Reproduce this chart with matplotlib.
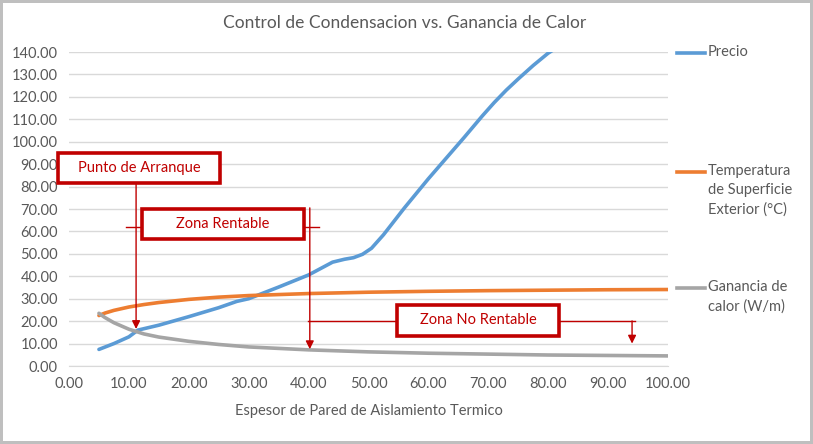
import numpy as np
import matplotlib.pyplot as plt
from matplotlib.patches import Rectangle
from matplotlib.lines import Line2D

plt.rcParams['font.family'] = ['Lato', 'DejaVu Sans']

# data
precio_x = [5, 7.5, 10, 11.5, 15, 20, 25, 28, 30, 35, 40, 44, 46, 47.5, 49, 50.5, 52.5, 56, 60,
            66, 69, 71, 73, 75, 77.5, 80, 85]
precio_y = [7.4, 10, 13, 16, 18.2, 22, 26, 28.8, 30, 35.2, 40.6, 46.3, 47.6, 48.3, 49.8, 52.5, 58.5,
            70.5, 83.5, 102, 111.5, 117.5, 123, 128, 134, 139.5, 148]

temp_x = [5, 6, 7.5, 10, 12.5, 15, 20, 25, 30, 40, 50, 60, 70, 80, 90, 100]
temp_y = [22.5, 23.6, 24.8, 26.3, 27.4, 28.3, 29.7, 30.7, 31.4, 32.3, 32.9, 33.3, 33.6, 33.8, 34, 34.1]

gan_x = [5, 6, 7.5, 10, 12.5, 15, 20, 25, 30, 40, 50, 60, 70, 80, 90, 100]
gan_y = [23.5, 21.6, 19.3, 16.4, 14.3, 12.9, 11.0, 9.6, 8.5, 7.2, 6.3, 5.7, 5.3, 4.9, 4.7, 4.5]

series_names = ['Precio', 'Temperatura\nde Superficie\nExterior (°C)', 'Ganancia de\ncalor (W/m)']
colors = ['#5B9BD5', '#ED7D31', '#A5A5A5']
red = '#C00000'
txtc = '#595959'

fig = plt.figure(figsize=(8.13, 4.44), dpi=100)
fig.patch.set_edgecolor('#BFBFBF')
fig.patch.set_linewidth(4)
ax = fig.add_axes([69/813, 1-366/444, (668-69)/813, (366-52)/444])

ax.plot(precio_x, precio_y, color=colors[0], lw=2.6, solid_capstyle='round', solid_joinstyle='round')
ax.plot(temp_x, temp_y, color=colors[1], lw=2.6, solid_capstyle='round', solid_joinstyle='round')
ax.plot(gan_x, gan_y, color=colors[2], lw=2.6, solid_capstyle='round', solid_joinstyle='round')

ax.set_xlim(0, 100)
ax.set_ylim(0, 140)
ax.set_xticks(np.arange(0, 101, 10))
ax.set_yticks(np.arange(0, 141, 10))
ax.xaxis.set_major_formatter(plt.FormatStrFormatter('%.2f'))
ax.yaxis.set_major_formatter(plt.FormatStrFormatter('%.2f'))
ax.tick_params(length=0, labelsize=10.5, colors=txtc, pad=8)
ax.grid(axis='y', color='#D9D9D9', lw=1)
ax.set_axisbelow(True)
for s in ['top', 'right', 'left']:
    ax.spines[s].set_visible(False)
ax.spines['bottom'].set_color('#D9D9D9')

ax.set_xlabel('Espesor de Pared de Aislamiento Termico', fontsize=10.5, color=txtc, labelpad=9)
fig.text(405/813, 1-23/444, 'Control de Condensacion vs. Ganancia de Calor',
         ha='center', va='center', fontsize=12.5, color=txtc)

# annotation lines and arrows
def arrow(x, y0, y1):
    ax.annotate('', xy=(x, y1), xytext=(x, y0),
                arrowprops=dict(arrowstyle='-|>', color=red, lw=1, mutation_scale=12,
                                shrinkA=0, shrinkB=0), annotation_clip=False)

arrow(11.2, 81.6, 16.5)
arrow(40.2, 70.5, 7.5)
arrow(94.0, 20.1, 10.0)
ax.plot([9.5, 41.7], [62, 62], color=red, lw=1)
ax.plot([39.9, 94.5], [20.1, 20.1], color=red, lw=1)

def box(x0, x1, y0, y1, label):
    ax.add_patch(Rectangle((x0, y0), x1 - x0, y1 - y0, facecolor='white',
                           edgecolor=red, lw=2.6, clip_on=False, zorder=5))
    ax.text((x0 + x1) / 2, (y0 + y1) / 2, label, ha='center', va='center',
            fontsize=10.5, color=red, zorder=6)

box(-1.8, 25.2, 81.6, 95.0, 'Punto de Arranque')
box(12.2, 39.2, 56.5, 69.9, 'Zona Rentable')
box(54.8, 81.8, 13.4, 27.2, 'Zona No Rentable')

# legend drawn on the right, handles at the first text line
leg_y = [53, 172, 288]
for name, c, yp in zip(series_names, colors, leg_y):
    yf = 1 - yp/444
    fig.add_artist(Line2D([677/813, 705/813], [yf, yf], color=c, lw=2.6))
    fig.text(708/813, yf + 8/444, name, ha='left', va='top', fontsize=10.5, color=txtc,
             linespacing=1.45)

fig.savefig('out.png', dpi=100)
